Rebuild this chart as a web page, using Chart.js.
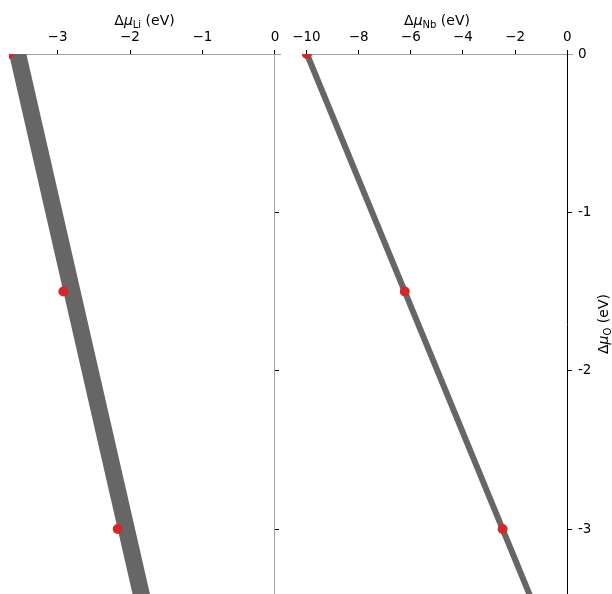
<!DOCTYPE html>
<html>
<head>
<meta charset="utf-8">
<script src="https://cdn.jsdelivr.net/npm/chart.js@4.4.1/dist/chart.umd.min.js"></script>
<style>
  html, body { margin: 0; padding: 0; background: #fff; }
  #wrap { position: relative; width: 612px; height: 594px; }
  #wrap canvas { position: absolute; left: 0; top: 0; }
</style>
</head>
<body>
<div id="wrap">
  <canvas id="liChart" width="612" height="594"></canvas>
  <canvas id="nbChart" width="612" height="594"></canvas>
</div>
<script>
// Marked points: oxygen chemical potential and the matching Li / Nb potentials (eV)
const markO  = [0, -1.5, -3];
const markLi = [-3.67, -2.92, -2.17];
const markNb = [-9.98, -6.23, -2.48];

// Stability limits, given at Δμ_O = 0 and Δμ_O = -3.5 eV
const edgeO       = [0, -3.5];
const liLowerEdge = [-3.67, -1.92];
const liUpperEdge = [-3.43, -1.68];
const nbEdge      = [-9.98, -1.23];

// Axis ranges and tick values
const oRange  = [-3.41, 0];
const liRange = [-3.67, 0.07];
const nbRange = [-10.17, 0.18];
const liTicks = [-3, -2, -1, 0];
const nbTicks = [-10, -8, -6, -4, -2, 0];
const oTicks  = [0, -1, -2, -3];

const FONT = "'DejaVu Sans', 'Liberation Sans', sans-serif";
const GREY = '#666666';
const RED = '#d62728';
const AXIS_GREY = '#a0a0a0';
const TICK_SIZE = 13.5;

const minusLabel = v => (v < 0 ? '\u2212' + Math.abs(v) : String(v));
const setTicks = vals => scale => { scale.ticks = vals.map(v => ({ value: v })); };
// Keep the plot area fixed: no extra room for overhanging tick labels
const noOverhang = s => { s.paddingTop = 0; s.paddingBottom = 0; s.paddingLeft = 0; s.paddingRight = 0; };

// Text with italic μ and a subscript, e.g. Δμ_Li (eV)
function richParts(sub) {
  return [
    { t: 'Δ', font: `14px ${FONT}`, dy: 0 },
    { t: 'μ', font: `italic 14px ${FONT}`, dy: 0 },
    { t: sub, font: `10px ${FONT}`, dy: 3 },
    { t: ' (eV)', font: `14px ${FONT}`, dy: 0 }
  ];
}
function drawRich(ctx, parts, cx, cy, angle) {
  ctx.save();
  ctx.translate(cx, cy);
  ctx.rotate(angle);
  let w = 0;
  parts.forEach(p => { ctx.font = p.font; w += ctx.measureText(p.t).width; });
  let x = -w / 2;
  ctx.fillStyle = '#000';
  ctx.textBaseline = 'alphabetic';
  ctx.textAlign = 'left';
  parts.forEach(p => {
    ctx.font = p.font;
    ctx.fillText(p.t, x, p.dy);
    x += ctx.measureText(p.t).width;
  });
  ctx.restore();
}

const titlePlugin = (sub, withOTitle) => ({
  id: 'richTitles',
  afterDraw(chart) {
    const { ctx, chartArea } = chart;
    const cx = (chartArea.left + chartArea.right) / 2;
    drawRich(ctx, richParts(sub), cx, 25, 0);
    if (withOTitle) {
      const cy = (chartArea.top + chartArea.bottom) / 2;
      drawRich(ctx, richParts('O'), 608, cy, -Math.PI / 2);
    }
  }
});

function xAxis(range, ticks) {
  return {
    type: 'linear',
    position: 'top',
    min: range[0],
    max: range[1],
    afterBuildTicks: setTicks(ticks),
    afterFit: s => { s.height = 54; noOverhang(s); },
    grid: { drawOnChartArea: false, drawTicks: true, tickLength: 4, color: '#000', lineWidth: 1 },
    border: { display: true, color: AXIS_GREY, width: 1 },
    ticks: { color: '#000', font: { family: FONT, size: TICK_SIZE }, padding: 4, callback: minusLabel, maxRotation: 0 }
  };
}
function zeroSpine(color) {
  return {
    type: 'linear',
    position: { x: 0 },
    min: oRange[0],
    max: oRange[1],
    afterBuildTicks: setTicks(oTicks),
    afterFit: s => { s.width = 0; noOverhang(s); },
    grid: { drawOnChartArea: false, drawTicks: true, tickLength: -5, color: '#000', lineWidth: 1 },
    border: { display: true, color: color, width: 1 },
    ticks: { display: false }
  };
}

Chart.defaults.font.family = FONT;

// Left panel: Li potential band
new Chart(document.getElementById('liChart'), {
  type: 'scatter',
  data: {
    datasets: [
      {
        data: markLi.map((v, i) => ({ x: v, y: markO[i] })),
        pointRadius: 5,
        pointBackgroundColor: RED,
        pointBorderWidth: 0,
        showLine: false,
        clip: 0
      },
      {
        data: [
          { x: liLowerEdge[0], y: edgeO[0] },
          { x: liLowerEdge[1], y: edgeO[1] },
          { x: liUpperEdge[1], y: edgeO[1] },
          { x: liUpperEdge[0], y: edgeO[0] }
        ],
        showLine: true,
        fill: 'shape',
        backgroundColor: GREY,
        borderColor: 'rgba(0,0,0,0)',
        borderWidth: 0,
        pointRadius: 0,
        clip: 0
      }
    ]
  },
  options: {
    responsive: false,
    animation: false,
    events: [],
    layout: { autoPadding: false, padding: { left: 9, right: 332, top: 0, bottom: 0 } },
    plugins: { legend: { display: false }, tooltip: { enabled: false } },
    scales: {
      x: xAxis(liRange, liTicks),
      y: zeroSpine(AXIS_GREY)
    }
  },
  plugins: [titlePlugin('Li', false)]
});

// Right panel: Nb potential line
new Chart(document.getElementById('nbChart'), {
  type: 'scatter',
  data: {
    datasets: [
      {
        data: markNb.map((v, i) => ({ x: v, y: markO[i] })),
        pointRadius: 5,
        pointBackgroundColor: RED,
        pointBorderWidth: 0,
        showLine: false,
        clip: 0
      },
      {
        data: nbEdge.map((v, i) => ({ x: v, y: edgeO[i] })),
        showLine: true,
        borderColor: GREY,
        borderWidth: 6,
        borderCapStyle: 'butt',
        pointRadius: 0,
        clip: 0
      }
    ]
  },
  options: {
    responsive: false,
    animation: false,
    events: [],
    layout: { autoPadding: false, padding: { left: 302, right: 0, top: 0, bottom: 0 } },
    plugins: { legend: { display: false }, tooltip: { enabled: false } },
    scales: {
      x: xAxis(nbRange, nbTicks),
      y: zeroSpine('#000'),
      yr: {
        type: 'linear',
        position: 'right',
        min: oRange[0],
        max: oRange[1],
        afterBuildTicks: setTicks(oTicks),
        afterFit: s => { s.width = 40; noOverhang(s); },
        grid: { display: false, drawTicks: false, drawOnChartArea: false },
        border: { display: false },
        ticks: {
          color: '#000',
          font: { family: FONT, size: TICK_SIZE },
          padding: 6,
          callback: v => (v < 0 ? '-' + Math.abs(v) : String(v))
        }
      }
    }
  },
  plugins: [titlePlugin('Nb', true)]
});
</script>
</body>
</html>
